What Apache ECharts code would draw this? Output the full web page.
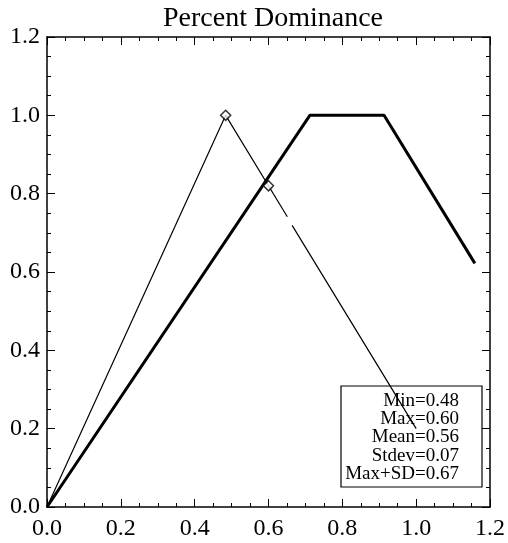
<!DOCTYPE html>
<html>
<head>
<meta charset="utf-8">
<script src="https://cdn.jsdelivr.net/npm/echarts@6/dist/echarts.min.js"></script>
<style>html,body{margin:0;padding:0;background:#fff}#c{width:508px;height:543px}</style>
</head>
<body>
<div id="c"></div>
<script>
var titleText = 'Percent Dominance';
var xTicks = [0, 1.2, 0.2];
var yTicks = [0, 1.2, 0.2];
// thin line (with a small gap)
var thinX = [0, 0.484, 0.651, null, 0.664, 1.0];
var thinY = [0, 1.0, 0.741, null, 0.719, 0.2];
// thick line
var thickX = [0, 0.712, 0.913, 1.159];
var thickY = [0, 1.0, 1.0, 0.622];
// diamond markers
var markX = [0.484, 0.6];
var markY = [1.0, 0.82];
var statsLines = ['Min=0.48', 'Max=0.60', 'Mean=0.56', 'Stdev=0.07', 'Max+SD=0.67'];

function pairs(xs, ys) {
  return xs.map(function (x, i) { return (x === null || ys[i] === null) ? ['-', '-'] : [x, ys[i]]; });
}
var FONT = 'Liberation Serif';
var chart = echarts.init(document.getElementById('c'), null, {renderer: 'canvas'});
function axis(pos, showLabel) {
  var isX = pos === 'bottom' || pos === 'top';
  var t = isX ? xTicks : yTicks;
  return {
    type: 'value', position: pos, min: t[0], max: t[1], interval: t[2],
    splitLine: {show: false},
    axisLine: {show: true, onZero: false, lineStyle: {color: '#000', width: 1.5}},
    axisTick: {show: true, inside: true, length: 8, lineStyle: {color: '#000', width: 1}},
    minorTick: {show: true, splitNumber: 4, length: 4, lineStyle: {color: '#000', width: 1}},
    axisLabel: {show: showLabel, color: '#000', fontFamily: FONT, fontSize: 24, margin: isX ? 10 : 7,
      formatter: function (v) { return v.toFixed(1); }},
    silent: true
  };
}
var graphics = [{
  type: 'rect', shape: {x: 341, y: 386, width: 141, height: 101},
  style: {fill: 'none', stroke: '#000', lineWidth: 1.2}, z: 10
}];
statsLines.forEach(function (s, i) {
  graphics.push({type: 'text', x: 459, y: 401 + i * 18.2,
    style: {text: s, fill: '#000', font: '19px "' + FONT + '"', textAlign: 'right', textVerticalAlign: 'middle'}, z: 10});
});
chart.setOption({
  animation: false,
  backgroundColor: '#fff',
  title: {text: titleText, left: 268, top: 0, textAlign: 'center',
    textStyle: {fontFamily: FONT, fontSize: 28, fontWeight: 'normal', color: '#000'}},
  grid: {left: 47, right: 18, top: 37, bottom: 36, containLabel: false},
  xAxis: [axis('bottom', true), axis('top', false)],
  yAxis: [axis('left', true), axis('right', false)],
  series: [
    {type: 'line', data: pairs(thinX, thinY), showSymbol: false, symbol: 'none',
      lineStyle: {color: '#000', width: 1.2}, connectNulls: false, z: 3},
    {type: 'line', data: pairs(thickX, thickY), showSymbol: false, symbol: 'none',
      lineStyle: {color: '#000', width: 3}, z: 2},
    {type: 'scatter', data: pairs(markX, markY), symbol: 'diamond', symbolSize: [10, 10],
      itemStyle: {color: '#fff', borderColor: '#000', borderWidth: 1.5}, z: 4}
  ],
  graphic: graphics
});
</script>
</body>
</html>
